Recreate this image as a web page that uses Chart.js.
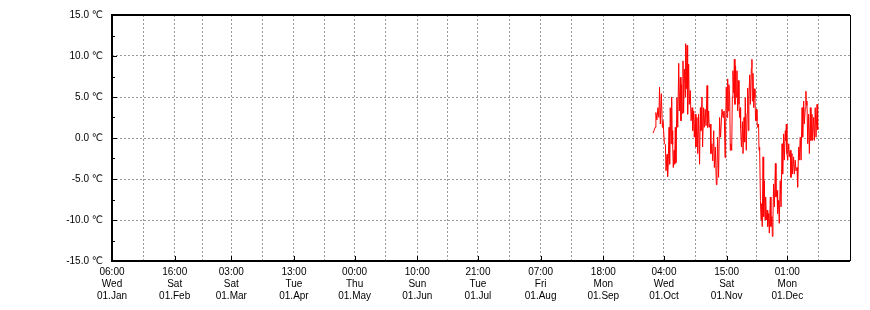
<!DOCTYPE html>
<html>
<head>
<meta charset="utf-8">
<script src="https://cdn.jsdelivr.net/npm/chart.js@4/dist/chart.umd.min.js"></script>
<style>
html,body{margin:0;padding:0;background:#fff;}
#wrap{width:870px;height:310px;}
</style>
</head>
<body>
<div id="wrap"><canvas id="c" width="870" height="310"></canvas></div>
<script>
// Tick positions (day of year) and labels
const monthStartDays = [0, 31, 59, 90, 120, 151, 181, 212, 243, 273, 304, 334];
const tickTimes = ['06:00','16:00','03:00','13:00','00:00','10:00','21:00','07:00','18:00','04:00','15:00','01:00'];
const tickWeekdays = ['Wed','Sat','Sat','Tue','Thu','Sun','Tue','Fri','Mon','Wed','Sat','Mon'];
const tickDates = ['01.Jan','01.Feb','01.Mar','01.Apr','01.May','01.Jun','01.Jul','01.Aug','01.Sep','01.Oct','01.Nov','01.Dec'];
const yMin = -15, yMax = 15, yStep = 5;

// Temperature series: day of year and value (°C)
const days = [
267.6,268.1,268.6,269.0,269.5,270.0,270.5,270.8,271.2,271.7,272.2,272.5,272.8,273.2,273.7,274.0,274.5,274.8,275.1,275.5,
275.8,276.1,276.5,276.8,277.0,277.3,277.6,278.0,278.3,278.6,278.9,279.4,279.8,280.3,280.6,281.1,281.4,281.7,282.1,282.4,
282.7,283.1,283.6,283.7,284.0,284.4,284.7,285.2,285.5,286.0,286.4,286.9,287.2,287.7,288.0,288.5,288.8,289.3,289.7,290.1,
290.6,291.0,291.3,291.8,292.1,292.6,292.9,293.4,293.8,294.3,294.6,295.1,295.4,295.9,296.2,296.7,297.1,297.6,297.9,298.4,
298.9,299.2,299.5,300.0,300.5,301.0,301.4,301.7,302.2,302.5,302.8,303.2,303.5,303.8,304.2,304.5,304.8,305.1,305.5,305.8,
306.1,306.5,306.8,307.1,307.5,307.8,308.1,308.4,308.8,309.1,309.4,309.8,310.1,310.4,310.7,
310.9,311.3,311.8,312.1,312.6,312.9,313.2,313.7,314.1,314.4,314.7,315.0,315.4,315.7,316.2,316.5,316.7,317.0,317.4,317.7,
318.0,318.3,318.7,319.0,319.3,319.8,320.0,320.3,320.7,321.0,321.3,321.6,322.0,322.3,322.6,323.0,323.3,323.6,324.0,324.3,
324.8,325.1,325.6,325.9,326.4,326.6,326.9,327.2,327.6,328.1,328.4,328.9,329.2,329.7,330.0,330.5,330.9,331.4,331.7,332.2,
332.5,333.0,333.3,333.5,333.8,334.2,334.7,335.0,335.5,335.8,336.3,336.6,337.1,337.5,337.9,338.3,338.8,339.1,339.6,339.9,
340.4,340.8,341.3,341.6,342.1,342.4,342.9,343.2,343.4,343.7,344.1,344.5,344.9,345.4,345.7,346.2,346.5,347.0,347.4,347.8,
348.2,348.7,349.0,349.3
];
const temps = [
0.6,0.9,1.3,3.1,2.2,3.7,2.5,6.2,1.7,5.4,1.3,2.1,0.9,-0.7,-0.8,-4.0,-2.0,-4.7,-3.0,1.3,
-3.2,3.7,-0.7,5.0,0.9,-0.8,-3.6,-1.5,-3.2,1.3,-3.0,4.9,1.3,9.1,3.3,7.4,2.1,6.5,3.0,9.4,
3.1,8.4,5.0,11.5,6.0,11.3,2.9,9.0,4.1,5.8,2.1,3.7,0.9,3.3,0.1,2.9,-1.1,2.5,-1.9,2.9,
-3.2,3.7,0.9,5.0,-1.1,3.7,1.3,3.5,1.5,6.4,1.3,3.3,1.3,1.7,-1.9,-0.7,-2.8,0.9,-3.6,-1.1,
-5.7,-4.0,0.1,-4.8,2.5,0.1,2.2,3.5,2.5,3.2,3.3,-2.4,1.5,6.2,2.5,7.2,3.3,6.5,5.0,-1.5,
-0.7,-1.5,5.0,8.2,5.5,9.6,4.1,8.8,5.0,8.2,3.3,7.0,4.1,2.5,3.7,
1.2,-1.1,2.0,-1.9,2.5,-0.5,4.9,-1.5,3.0,6.1,0.9,5.0,7.7,4.1,8.5,9.6,4.5,7.9,3.7,6.0,
4.9,2.1,3.5,2.1,1.3,1.7,-1.5,-1.1,-7.6,-10.0,-8.0,-10.8,-2.3,-9.6,-5.2,-10.0,-7.2,-10.0,-8.8,-10.8,
-9.2,-11.6,-7.2,-10.8,-9.6,-12.0,-9.8,-5.6,-8.4,-3.1,-7.2,-6.4,-9.2,-7.6,-10.4,-5.2,-8.4,-0.7,-4.4,0.5,
-2.7,0.9,-0.3,1.7,-1.9,-2.7,-0.7,-2.3,-1.5,-4.8,-1.9,-4.4,-2.3,-4.4,-2.7,-4.0,-3.6,-6.0,-1.1,-2.7,
0.1,-2.7,3.7,0.1,4.5,1.7,3.7,5.7,4.0,4.5,-0.7,2.9,-1.9,3.7,-0.3,2.9,-0.3,2.5,-0.3,3.7,
0.1,4.1,1.0,1.3
];

const yearEnd = 365;
// mid-month minor grid positions (halfway between month starts)
const allStarts = monthStartDays.concat([yearEnd]);
const midDays = monthStartDays.map((d, i) => (d + allStarts[i + 1]) / 2);
const xTickValues = monthStartDays.concat(midDays).sort((a, b) => a - b);

const FONT = { family: '"Liberation Sans", "DejaVu Sans", sans-serif', size: 10 };

const framePlugin = {
  id: 'frame',
  afterDraw(chart) {
    const { ctx, chartArea: a, scales: { x, y } } = chart;
    ctx.save();
    ctx.strokeStyle = '#000';
    ctx.lineWidth = 1;
    ctx.beginPath();
    for (let v = yMin; v <= yMax; v += yStep / 2) {
      const py = Math.round(y.getPixelForValue(v)) + 0.5;
      const len = (v % yStep === 0) ? 5 : 3;
      ctx.moveTo(a.left, py); ctx.lineTo(a.left + len, py);
    }
    for (const d of monthStartDays) {
      const px = Math.round(x.getPixelForValue(d)) + 0.5;
      ctx.moveTo(px, a.bottom); ctx.lineTo(px, a.bottom - 5);
    }
    ctx.stroke();
    // frame
    ctx.lineWidth = 2;
    ctx.beginPath();
    ctx.moveTo(a.left, a.top); ctx.lineTo(a.right, a.top);
    ctx.moveTo(a.left, a.top - 1); ctx.lineTo(a.left, a.bottom + 1);
    ctx.moveTo(a.left - 1, a.bottom); ctx.lineTo(a.right, a.bottom);
    ctx.stroke();
    ctx.lineWidth = 1;
    ctx.beginPath();
    ctx.moveTo(a.right + 0.5, a.top); ctx.lineTo(a.right + 0.5, a.bottom);
    ctx.stroke();
    ctx.restore();
  }
};

new Chart(document.getElementById('c'), {
  type: 'line',
  data: {
    datasets: [{
      data: days.map((d, i) => ({ x: d, y: temps[i] })),
      borderColor: '#ff0000',
      borderWidth: 1,
      pointRadius: 0,
      tension: 0,
      fill: false
    }]
  },
  options: {
    responsive: false,
    animation: false,
    devicePixelRatio: 1,
    layout: { padding: { top: 14, right: 20, left: 0, bottom: 0 } },
    plugins: { legend: { display: false }, tooltip: { enabled: false } },
    scales: {
      x: {
        type: 'linear',
        min: 0,
        max: yearEnd,
        afterBuildTicks: (scale) => { scale.ticks = xTickValues.map(v => ({ value: v })); },
        afterFit: (scale) => { scale.height = 49; },
        grid: { color: '#999', lineWidth: 1, drawTicks: false },
        border: { display: false, dash: [2, 2] },
        ticks: {
          autoSkip: false,
          maxRotation: 0,
          padding: 5,
          color: '#000',
          font: FONT,
          callback: (value) => {
            const i = monthStartDays.indexOf(value);
            if (i < 0) return '';
            return [tickTimes[i], tickWeekdays[i], tickDates[i]];
          }
        }
      },
      y: {
        min: yMin,
        max: yMax,
        afterFit: (scale) => { scale.width = 112; },
        grid: { color: '#999', lineWidth: 1, drawTicks: false },
        border: { display: false, dash: [2, 2] },
        ticks: {
          stepSize: yStep,
          padding: 9,
          color: '#000',
          font: FONT,
          callback: (v) => v.toFixed(1) + ' ℃'
        }
      }
    }
  },
  plugins: [framePlugin]
});
</script>
</body>
</html>
